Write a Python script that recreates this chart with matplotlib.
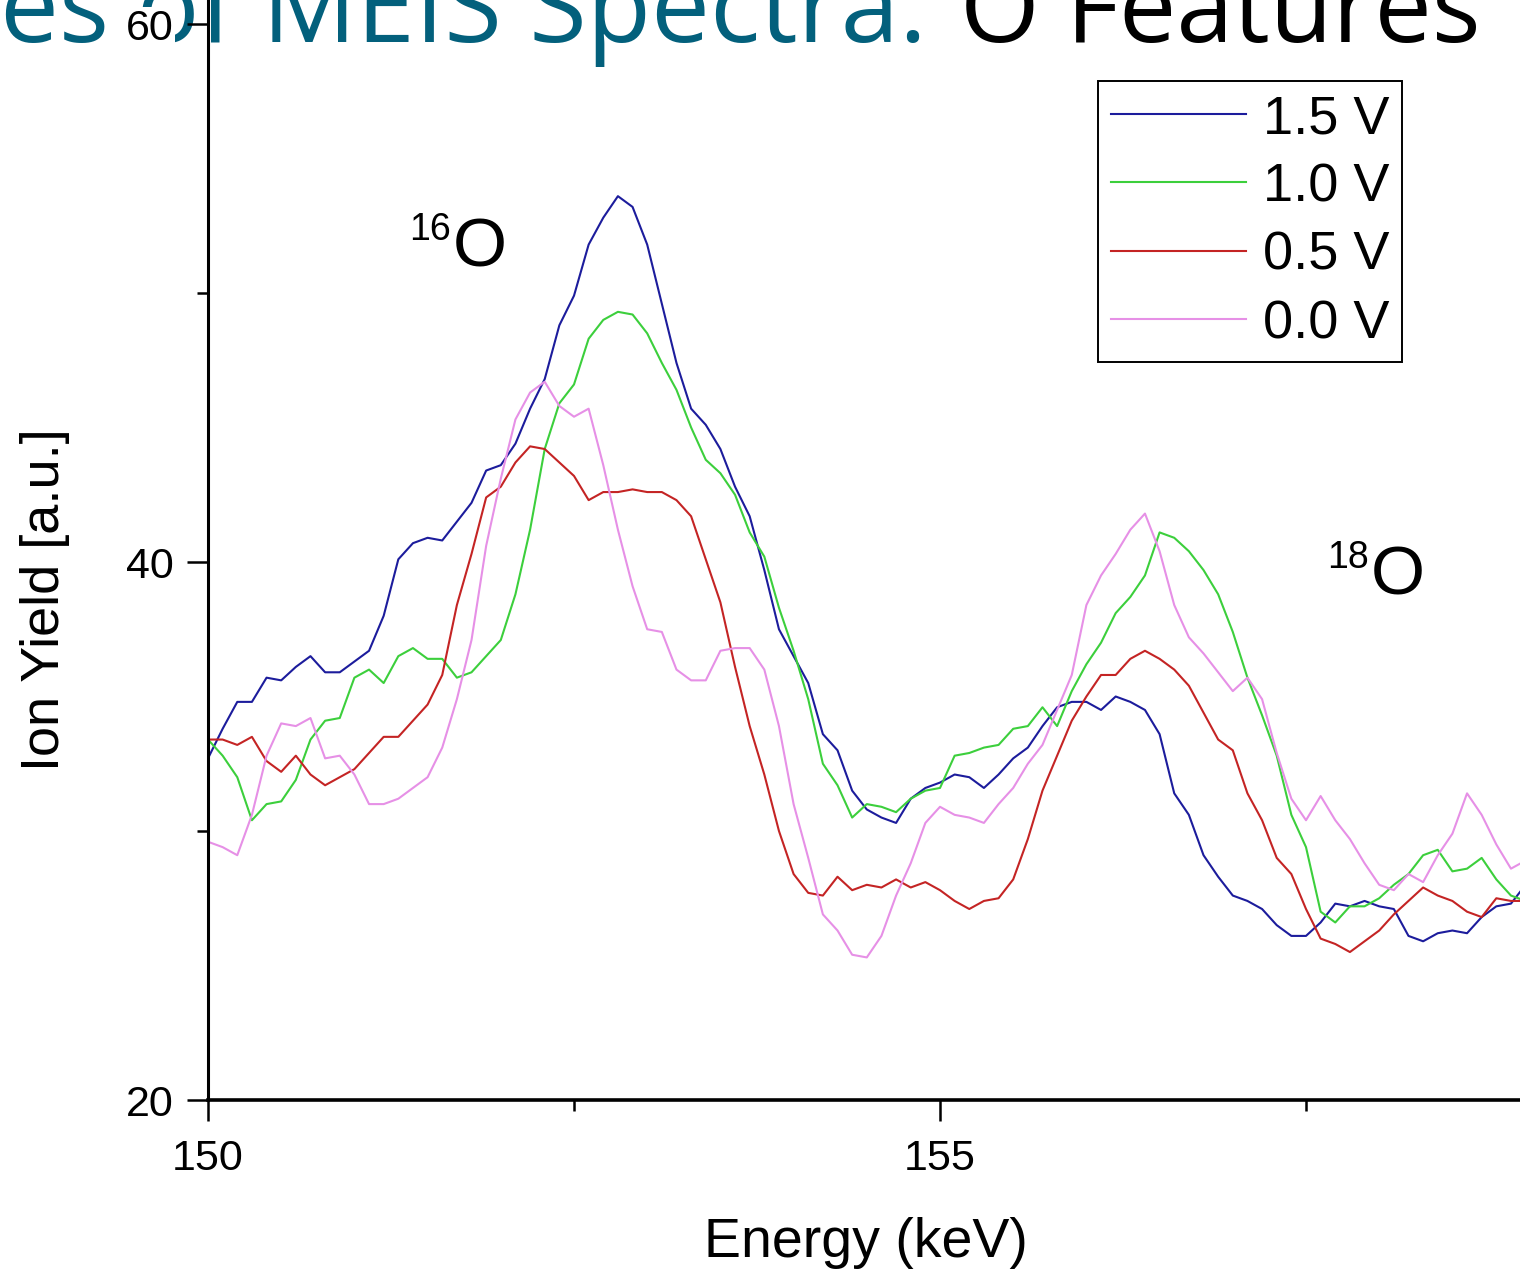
import numpy as np
import matplotlib
matplotlib.use('Agg')
import matplotlib.pyplot as plt
from matplotlib.ticker import MultipleLocator

# energy channels (keV), 0.1 keV step
energy = np.linspace(150.0, 159.0, 91)

yield_15V = [32.7, 33.8, 34.8, 34.8, 35.7, 35.6, 36.1, 36.5, 35.9, 35.9,
             36.3, 36.7, 38.0, 40.1, 40.7, 40.9, 40.8, 41.5, 42.2, 43.4,
             43.6, 44.4, 45.7, 46.8, 48.8, 49.9, 51.8, 52.8, 53.6, 53.2,
             51.8, 49.6, 47.4, 45.7, 45.1, 44.2, 42.8, 41.7, 39.7, 37.5,
             36.5, 35.5, 33.6, 33.0, 31.5, 30.8, 30.5, 30.3, 31.2, 31.6,
             31.8, 32.1, 32.0, 31.6, 32.1, 32.7, 33.1, 33.9, 34.6, 34.8,
             34.8, 34.5, 35.0, 34.8, 34.5, 33.6, 31.4, 30.6, 29.1, 28.3,
             27.6, 27.4, 27.1, 26.5, 26.1, 26.1, 26.6, 27.3, 27.2, 27.4,
             27.2, 27.1, 26.1, 25.9, 26.2, 26.3, 26.2, 26.8, 27.2, 27.3,
             28.0]

yield_10V = [33.4, 32.8, 32.0, 30.4, 31.0, 31.1, 31.9, 33.4, 34.1, 34.2,
             35.7, 36.0, 35.5, 36.5, 36.8, 36.4, 36.4, 35.7, 35.9, 36.5,
             37.1, 38.8, 41.2, 44.2, 45.9, 46.6, 48.3, 49.0, 49.3, 49.2,
             48.5, 47.4, 46.4, 45.0, 43.8, 43.3, 42.5, 41.1, 40.2, 38.3,
             36.7, 34.9, 32.5, 31.7, 30.5, 31.0, 30.9, 30.7, 31.2, 31.5,
             31.6, 32.8, 32.9, 33.1, 33.2, 33.8, 33.9, 34.6, 33.9, 35.2,
             36.2, 37.0, 38.1, 38.7, 39.5, 41.1, 40.9, 40.4, 39.7, 38.8,
             37.4, 35.7, 34.3, 32.8, 30.6, 29.4, 27.0, 26.6, 27.2, 27.2,
             27.5, 28.0, 28.4, 29.1, 29.3, 28.5, 28.6, 29.0, 28.2, 27.6,
             27.4]

yield_05V = [33.4, 33.4, 33.2, 33.5, 32.6, 32.2, 32.8, 32.1, 31.7, 32.0,
             32.3, 32.9, 33.5, 33.5, 34.1, 34.7, 35.8, 38.4, 40.3, 42.4,
             42.8, 43.7, 44.3, 44.2, 43.7, 43.2, 42.3, 42.6, 42.6, 42.7,
             42.6, 42.6, 42.3, 41.7, 40.1, 38.5, 36.1, 33.9, 32.1, 30.0,
             28.4, 27.7, 27.6, 28.3, 27.8, 28.0, 27.9, 28.2, 27.9, 28.1,
             27.8, 27.4, 27.1, 27.4, 27.5, 28.2, 29.7, 31.5, 32.8, 34.1,
             35.0, 35.8, 35.8, 36.4, 36.7, 36.4, 36.0, 35.4, 34.4, 33.4,
             33.0, 31.4, 30.4, 29.0, 28.4, 27.1, 26.0, 25.8, 25.5, 25.9,
             26.3, 26.9, 27.4, 27.9, 27.6, 27.4, 27.0, 26.8, 27.5, 27.4,
             27.4]

yield_00V = [29.6, 29.4, 29.1, 30.6, 32.8, 34.0, 33.9, 34.2, 32.7, 32.8,
             32.1, 31.0, 31.0, 31.2, 31.6, 32.0, 33.1, 34.9, 37.1, 40.6,
             43.1, 45.3, 46.3, 46.7, 45.8, 45.4, 45.7, 43.6, 41.2, 39.1,
             37.5, 37.4, 36.0, 35.6, 35.6, 36.7, 36.8, 36.8, 36.0, 33.9,
             31.0, 29.0, 26.9, 26.3, 25.4, 25.3, 26.1, 27.6, 28.8, 30.3,
             30.9, 30.6, 30.5, 30.3, 31.0, 31.6, 32.5, 33.2, 34.5, 35.8,
             38.4, 39.5, 40.3, 41.2, 41.8, 40.4, 38.4, 37.2, 36.6, 35.9,
             35.2, 35.7, 34.9, 32.9, 31.2, 30.4, 31.3, 30.4, 29.7, 28.8,
             28.0, 27.8, 28.4, 28.1, 29.1, 29.9, 31.4, 30.6, 29.5, 28.6,
             28.9]

labels = ['1.5 V', '1.0 V', '0.5 V', '0.0 V']
colors = ['#1c1c9c', '#3ccf3c', '#c42424', '#e690e6']
series = [yield_15V, yield_10V, yield_05V, yield_00V]

plt.rcParams['font.family'] = ['Liberation Sans', 'DejaVu Sans']

W, H = 1520, 1274
fig = plt.figure(figsize=(W / 100, H / 100), dpi=100)
ax = fig.add_axes([208 / W, 174 / H, 1312 / W, 1100 / H])
ax.set_facecolor('none')

for vals, lab, col in zip(series, labels, colors):
    ax.plot(energy, vals, color=col, lw=1.5, label=lab)

ax.set_xlim(150, 150 + 1312 / 146.4)
ax.set_ylim(20, 60 + 24 / 26.9)

for s in ['top', 'right']:
    ax.spines[s].set_visible(False)
ax.spines['left'].set_linewidth(2.2)
ax.spines['bottom'].set_linewidth(2.6)

ax.xaxis.set_major_locator(MultipleLocator(5))
ax.xaxis.set_minor_locator(MultipleLocator(2.5))
ax.yaxis.set_major_locator(MultipleLocator(20))
ax.yaxis.set_minor_locator(MultipleLocator(10))
ax.tick_params(which='major', direction='out', length=15, width=1.8,
               labelsize=31, pad=10)
ax.tick_params(axis='x', which='major', pad=13)
ax.tick_params(which='minor', direction='out', length=8, width=1.8)

ax.set_xlabel('Energy (keV)', fontsize=40)
ax.xaxis.set_label_coords((866 - 208) / 1312, -(1243 - 1100) / 1100)
ax.xaxis.label.set_verticalalignment('center')
ax.set_ylabel('Ion Yield [a.u.]', fontsize=39)
ax.yaxis.set_label_coords((45 - 208) / 1312, (1100 - 600) / 1100)
ax.yaxis.label.set_verticalalignment('center')

# isotope labels
ax.text(151.67, 51.0, 'O', fontsize=50, ha='left', va='baseline')
ax.text(151.66, 53.0, '16', fontsize=27, ha='right', va='top')
ax.text(157.94, 38.8, 'O', fontsize=50, ha='left', va='baseline')
ax.text(157.93, 40.8, '18', fontsize=27, ha='right', va='top')

leg = ax.legend(loc='upper left', bbox_to_anchor=(1098 / W, 1 - 81 / H),
                bbox_transform=fig.transFigure, fontsize=39, frameon=True,
                fancybox=False, borderaxespad=0, handlelength=2.5,
                handletextpad=0.3, borderpad=0.24, labelspacing=0.34,
                framealpha=1)
leg.get_frame().set_edgecolor('black')
leg.get_frame().set_linewidth(1.4)
for ln in leg.get_lines():
    ln.set_linewidth(1.5)

# cropped slide title behind the chart
t1 = fig.text(0.0, 1 - 42 / H, 'es of MEIS Spectra:', color='#03607c',
              fontsize=75, family='Open Sans', va='baseline', ha='left',
              zorder=-1)
t2 = fig.text(960 / W, 1 - 42 / H, 'O Features', color='black',
              fontsize=75, family='Open Sans', va='baseline', ha='left',
              zorder=-1)

r = fig.canvas.get_renderer()
for t, target in [(t1, 925), (t2, 520)]:
    w = t.get_window_extent(renderer=r).width
    t.set_fontsize(t.get_fontsize() * target / w)

fig.canvas.draw()
for lbl in ax.get_yticklabels():
    if lbl.get_text() == '60':
        lbl.set_bbox(dict(facecolor='white', edgecolor='none', pad=1))

fig.savefig('out.png', dpi=100)
